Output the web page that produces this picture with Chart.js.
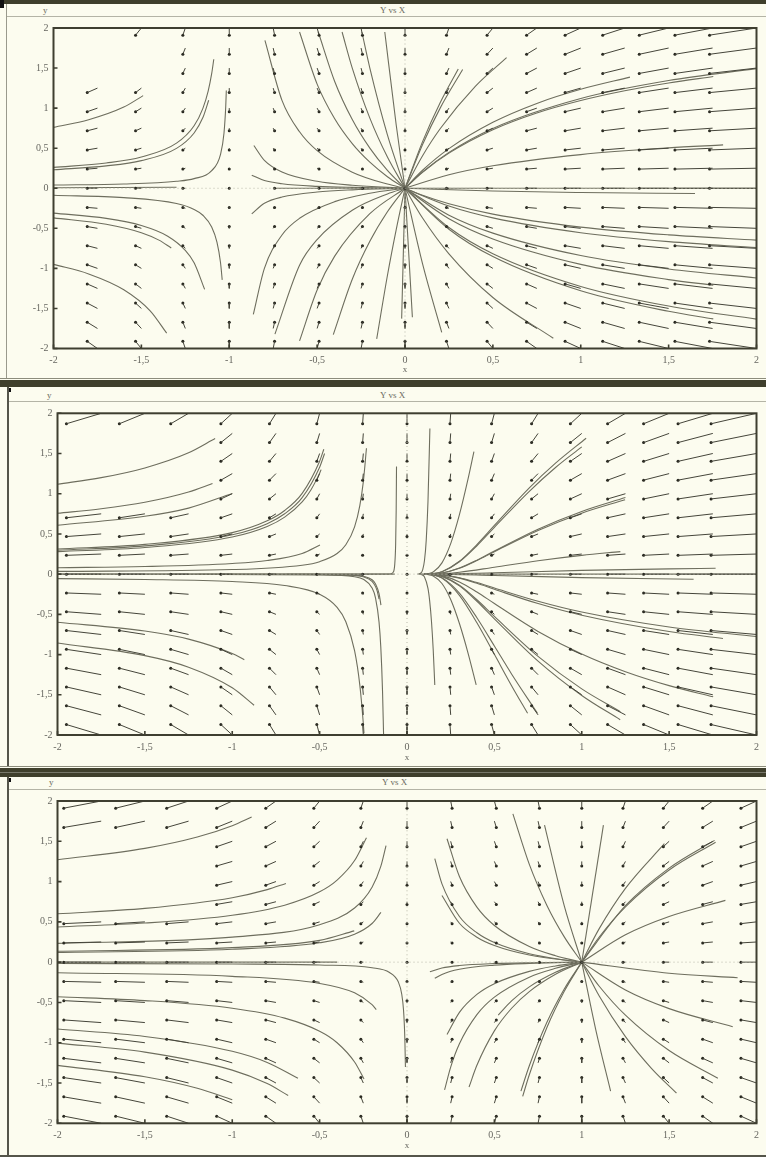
<!DOCTYPE html>
<html><head><meta charset="utf-8">
<script src="https://cdn.jsdelivr.net/npm/chart.js@4.4.1/dist/chart.umd.min.js"></script>
<style>
html,body{margin:0;padding:0;background:#fcfcef;}
body{width:766px;height:1157px;position:relative;overflow:hidden;font-family:"Liberation Serif","DejaVu Serif",serif;}
.abs{position:absolute;}
.band{position:absolute;left:0;width:766px;background:#3f3f2c;}
.hline{position:absolute;left:0;width:766px;height:1px;background:#b4b4a6;}
.vline{position:absolute;}
.lab{position:absolute;font-size:9px;color:#6a6a60;line-height:10px;white-space:nowrap;}
canvas{position:absolute;left:0;}
</style></head>
<body>
<!-- panel 1 chrome -->
<div class="band" style="top:0;height:4px"></div>
<div class="abs" style="left:0;top:0;width:4px;height:8px;background:#111"></div>
<div class="vline" style="left:6px;top:4px;width:1px;height:374px;background:#9a9a8c"></div>
<div class="hline" style="top:16px;left:7px;width:759px"></div>
<div class="lab" style="left:43px;top:5px">y</div>
<div class="lab" style="left:380px;top:5px">Y vs X</div>
<div class="hline" style="top:378px;background:#8c8c7c"></div>
<!-- panel 2 chrome -->
<div class="band" style="top:380px;height:7px"></div>
<div class="abs" style="left:8px;top:388px;width:3px;height:4px;background:#111"></div>
<div class="vline" style="left:7px;top:387px;width:2px;height:380px;background:#55554a"></div>
<div class="hline" style="top:401px;left:9px;width:757px"></div>
<div class="lab" style="left:47px;top:390px">y</div>
<div class="lab" style="left:380px;top:390px">Y vs X</div>
<div class="hline" style="top:766px;background:#8c8c7c"></div>
<!-- panel 3 chrome -->
<div class="band" style="top:768px;height:9px"></div>
<div class="abs" style="left:0;top:772px;width:766px;height:1px;background:#77776a"></div>
<div class="abs" style="left:8px;top:778px;width:3px;height:4px;background:#111"></div>
<div class="vline" style="left:7px;top:777px;width:2px;height:380px;background:#55554a"></div>
<div class="hline" style="top:789px;left:9px;width:757px"></div>
<div class="lab" style="left:49px;top:777px">y</div>
<div class="lab" style="left:382px;top:777px">Y vs X</div>
<div class="hline" style="top:1155px;background:#55554a;height:2px"></div>

<canvas id="c1" width="766" height="362" style="top:17px"></canvas>
<canvas id="c2" width="766" height="364" style="top:402px"></canvas>
<canvas id="c3" width="757" height="365" style="top:790px;left:9px"></canvas>

<script>
// ---------- data ----------
const tickValues = [-2,-1.5,-1,-0.5,0,0.5,1,1.5,2];
const gridX = [-2,-1.75,-1.5,-1.25,-1,-0.75,-0.5,-0.25,0,0.25,0.5,0.75,1,1.25,1.5,1.75,2];
const gridY = [-2,-1.75,-1.5,-1.25,-1,-0.75,-0.5,-0.25,0,0.25,0.5,0.75,1,1.25,1.5,1.75,2];

// arrow components (data units) per column / per row
const arrowDX1 = [0.089,0.058,0.033,0.014,0,-0.008,-0.011,-0.008,0,0.014,0.033,0.058,0.089,0.125,0.167,0.214,0.267];
const arrowDX2 = [0.26,0.199,0.146,0.102,0.065,0.037,0.016,0.004,0,0.004,0.016,0.037,0.065,0.102,0.146,0.199,0.26];
const arrowDX3 = [0.267,0.214,0.167,0.125,0.089,0.058,0.033,0.014,0,-0.008,-0.011,-0.008,0,0.014,0.033,0.058,0.089];
const arrowDY13 = [-0.089,-0.078,-0.067,-0.056,-0.0445,-0.033,-0.022,-0.011,0,0.011,0.022,0.033,0.0445,0.056,0.067,0.078,0.089];
const arrowDY2 = [-0.13,-0.114,-0.0975,-0.081,-0.065,-0.049,-0.0325,-0.016,0,0.016,0.0325,0.049,0.065,0.081,0.0975,0.114,0.13];

// grid cells where the arrow was erased in the picture [col,row]
const missing1 = [[1,16],[1,15],[1,14],[2,15],[2,14]];
const missing2 = [[1,15],[2,15],[3,15],[1,14],[2,14],[3,14],[1,13],[2,13],[3,13],[1,12],[2,12],[3,12]];
const missing3 = [[1,14],[2,14],[3,14],[1,13],[2,13],[3,13],[1,12],[2,12],[3,12],[1,11],[2,11],[3,11]];

// trajectories: flat [x0,y0,x1,y1,...]
const traj1 = [
 [-2,0.76,-1.8,0.855,-1.6,1.013,-1.49,1.156],
 [-2,0.26,-1.7,0.316,-1.5,0.39,-1.3,0.563,-1.2,0.78,-1.15,0.997,-1.12,1.213,-1.1,1.43,-1.088,1.61],
 [-2,0.23,-1.7,0.279,-1.5,0.345,-1.3,0.498,-1.2,0.69,-1.15,0.882,-1.117,1.098],
 [-2,0.04,-1.6,0.053,-1.3,0.087,-1.2,0.12,-1.1,0.22,-1.05,0.42,-1.03,0.687,-1.02,1.02,-1.0167,1.22],
 [-2,0.006,-1.3,0.013],
 [-2,-0.088,-1.6,-0.117,-1.3,-0.191,-1.2,-0.264,-1.15,-0.337,-1.1,-0.484,-1.07,-0.673,-1.05,-0.924,-1.04,-1.144],
 [-2,-0.31,-1.7,-0.376,-1.5,-0.465,-1.35,-0.598,-1.25,-0.775,-1.2,-0.93,-1.14,-1.262],
 [-2,-0.37,-1.7,-0.449,-1.5,-0.555,-1.4,-0.6475,-1.33,-0.746],
 [-2,-0.95,-1.8,-1.069,-1.6,-1.267,-1.45,-1.53,-1.356,-1.809],
 [-0.872,0.1635,-0.8,0.096,-0.7,0.056,-0.5,0.024,-0.3,0.0103,0,0],
 [-0.86,0.534,-0.8,0.348,-0.7,0.203,-0.5,0.087,-0.3,0.037,0,0],
 [-0.797,1.845,-0.7,1.097,-0.6,0.705,-0.5,0.47,-0.3,0.201,-0.1,0.052,0,0],
 [-0.6,1.95,-0.5,1.3,-0.4,0.867,-0.3,0.557,-0.2,0.325,-0.1,0.144,0,0],
 [-0.494,1.953,-0.4,1.333,-0.3,0.857,-0.2,0.5,-0.1,0.222,0,0],
 [-0.358,1.95,-0.3,1.5,-0.2,0.875,-0.1,0.389,0,0],
 [-0.245,1.947,-0.2,1.5,-0.1,0.667,0,0],
 [-0.115,1.95,-0.05,0.789,0,0],
 [-0.75,0.0,0,0],
 [-0.872,-0.32,-0.8,-0.188,-0.7,-0.11,-0.5,-0.047,-0.3,-0.02,0,0],
 [-0.863,-1.575,-0.8,-1.0,-0.7,-0.583,-0.6,-0.375,-0.4,-0.167,-0.2,-0.0625,0,0],
 [-0.74,-1.82,-0.6,-0.96,-0.5,-0.64,-0.3,-0.274,-0.1,-0.071,0,0],
 [-0.6,-1.905,-0.5,-1.27,-0.4,-0.847,-0.2,-0.3175,0,0],
 [-0.408,-1.826,-0.3,-1.136,-0.2,-0.6625,-0.1,-0.294,0,0],
 [-0.161,-1.88,-0.1,-1.089,-0.05,-0.516,0,0],
 [-0.019,-1.627,0,0],
 [0,0,0.1,0.582,0.2,1.067,0.303,1.488],
 [0,0,0.1,0.545,0.2,1.0,0.328,1.482],
 [0,0,0.1,0.405,0.2,0.742,0.4,1.271,0.578,1.63],
 [0,0,0.1,0.2245,0.25,0.494,0.5,0.823,0.75,1.059,1,1.235,1.28,1.387],
 [0,0,0.1,0.199,0.25,0.438,0.5,0.73,0.75,0.939,1,1.095,1.25,1.217,1.5,1.314,1.754,1.395],
 [0,0,0.1,0.204,0.25,0.448,0.5,0.747,1,1.12,1.5,1.344,2,1.493],
 [0,0,0.25,0.168,0.5,0.28,1,0.42,1.5,0.504,1.81,0.541],
 [0,0,2,0],
 [0,0,0.5,-0.035,1,-0.053,1.65,-0.066],
 [0,0,0.1,-0.088,0.25,-0.194,0.5,-0.323,1,-0.485,1.5,-0.582,2,-0.647],
 [0,0,0.25,-0.222,0.5,-0.37,1,-0.555,1.5,-0.666,2,-0.74],
 [0,0,0.25,-0.336,0.5,-0.56,1,-0.84,1.5,-1.008,2,-1.12],
 [0,0,0.25,-0.38,0.5,-0.633,1,-0.95,1.5,-1.14,1.754,-1.21],
 [0,0,0.25,-0.49,0.5,-0.817,1,-1.225,1.5,-1.47,2,-1.633],
 [0,0,0.25,-0.512,0.5,-0.853,1,-1.28,1.5,-1.536,1.754,-1.63],
 [0,0,0.1,-0.372,0.25,-0.818,0.5,-1.363,0.844,-1.872],
 [0,0,0.1,-0.945,0.209,-1.798],
 [0,0,0.042,-1.61]
];
const traj2 = [
 [-2,1.118,-1.75,1.2,-1.5,1.321,-1.25,1.509,-1.098,1.686],
 [-2,0.757,-1.75,0.813,-1.5,0.894,-1.25,1.0215,-1.113,1.127],
 [-2,0.608,-1.5,0.719,-1.25,0.821,-1,1.003],
 [-2,0.28,-1.5,0.331,-1,0.462,-0.8,0.593,-0.7,0.709,-0.6,0.899,-0.55,1.047,-0.5,1.256,-0.4914,1.3],
 [-2,0.297,-1.5,0.351,-1,0.489,-0.8,0.628,-0.7,0.751,-0.6,0.952,-0.5,1.33,-0.4717,1.5],
 [-2,0.313,-1.5,0.37,-1,0.516,-0.8,0.663,-0.7,0.792,-0.6,1.005,-0.5,1.404,-0.476,1.553],
 [-2,0.0805,-1.5,0.095,-1,0.133,-0.8,0.17,-0.6,0.258,-0.498,0.363],
 [-2,0.0346,-1,0.057,-0.6,0.111,-0.5,0.155,-0.4,0.256,-0.35,0.365,-0.3,0.588,-0.27,0.853,-0.25,1.147,-0.232,1.565],
 [-2,0,-0.3,0,-0.1,0.002,-0.08,0.021,-0.07,0.125,-0.065,0.37,-0.062,0.78,-0.06,1.34],
 [-2,-0.056,-1.5,-0.066,-1,-0.092,-0.7,-0.142,-0.5,-0.251,-0.4,-0.414,-0.35,-0.592,-0.3,-0.952,-0.27,-1.38,-0.25,-1.856,-0.246,-1.98],
 [-0.69,-0.002,-0.3,-0.0132,-0.25,-0.0257,-0.2,-0.0697,-0.18,-0.1215,-0.16,-0.2435,-0.149,-0.386],
 [-0.5,-0.0044,-0.3,-0.0168,-0.25,-0.0328,-0.2,-0.089,-0.18,-0.155,-0.17,-0.215,-0.16,-0.311],
 [-1.2,-0.0026,-0.5,-0.0085,-0.3,-0.032,-0.25,-0.063,-0.2,-0.171,-0.18,-0.297,-0.16,-0.596,-0.15,-0.904,-0.14,-1.455,-0.134,-2.0],
 [-2,-0.598,-1.5,-0.707,-1.25,-0.808,-1,-0.987,-0.931,-1.063],
 [-2,-0.857,-1.5,-1.013,-1.25,-1.157,-1,-1.413,-0.875,-1.63],
 [-2,0,-0.07,0],
 [0.07,0,2,0],
 [0.06,0,0.08,0.014,0.09,0.056,0.1,0.169,0.11,0.42,0.12,0.9,0.131,1.81],
 [0.1,0,0.12,0.005,0.15,0.026,0.2,0.14,0.25,0.379,0.3,0.739,0.35,1.19,0.383,1.524],
 [0.1,0,0.15,0.0057,0.2,0.03,0.3,0.16,0.4,0.368,0.5,0.606,0.7,1.074,0.85,1.38,1.025,1.69],
 [0.1,0,0.15,0.0055,0.2,0.029,0.3,0.154,0.4,0.353,0.5,0.582,0.7,1.03,0.85,1.326,1.0,1.582],
 [0.1,0,0.15,0.0026,0.2,0.0139,0.3,0.0735,0.4,0.169,0.5,0.279,0.75,0.543,1.0,0.758,1.248,0.925],
 [0.1,0,0.2,0.0143,0.3,0.0757,0.4,0.174,0.5,0.287,0.75,0.559,1,0.78,1.25,0.953],
 [0.1,0,0.2,0.0043,0.3,0.0227,0.5,0.086,0.75,0.167,1,0.234,1.221,0.28],
 [0.1,0,0.15,0.0002,0.5,0.0175,1,0.047,1.5,0.066,1.766,0.073],
 [0.1,0,0.15,0,0.5,-0.016,1,-0.043,1.64,-0.064],
 [0.1,0,0.15,-0.0016,0.2,-0.0086,0.3,-0.0457,0.4,-0.105,0.5,-0.173,0.75,-0.337,1,-0.471,1.5,-0.657,2,-0.776],
 [0.1,0,0.2,-0.0094,0.3,-0.0496,0.4,-0.114,0.5,-0.188,0.75,-0.366,1,-0.511,1.5,-0.714,1.808,-0.8],
 [0.1,0,0.15,-0.0034,0.2,-0.0182,0.3,-0.0964,0.4,-0.222,0.5,-0.365,0.75,-0.712,1,-0.993,1.25,-1.213,1.5,-1.386,1.752,-1.525],
 [0.1,0,0.15,-0.0052,0.2,-0.0276,0.3,-0.146,0.4,-0.337,0.5,-0.555,0.75,-1.081,1,-1.508,1.22,-1.81],
 [0.1,0,0.2,-0.026,0.3,-0.1385,0.4,-0.3185,0.5,-0.525,0.75,-1.023,1,-1.427,1.221,-1.71],
 [0.1,0,0.15,-0.0084,0.2,-0.0445,0.3,-0.236,0.4,-0.542,0.5,-0.893,0.6,-1.247,0.746,-1.728],
 [0.1,0,0.15,-0.0094,0.2,-0.0497,0.3,-0.263,0.4,-0.605,0.5,-0.997,0.6,-1.393,0.69,-1.73],
 [0.1,0,0.12,-0.004,0.15,-0.0218,0.2,-0.116,0.25,-0.315,0.3,-0.614,0.35,-0.987,0.396,-1.378],
 [0.08,-0.003,0.1,-0.034,0.12,-0.178,0.13,-0.339,0.14,-0.585,0.15,-0.941,0.159,-1.378]
];
const traj3 = [
 [-2,1.27,-1.5,1.412,-1.2,1.553,-1,1.694,-0.889,1.8],
 [-2,0.6,-1.5,0.667,-1,0.8,-0.8,0.9,-0.693,0.977],
 [-2,0.4365,-1.5,0.485,-1,0.582,-0.7,0.707,-0.5,0.873,-0.4,1.0185,-0.3,1.261,-0.232,1.545],
 [-2,0.2325,-1,0.31,-0.5,0.465,-0.3,0.672,-0.2,0.93,-0.15,1.188,-0.12,1.447],
 [-2,0.12,-1,0.16,-0.5,0.24,-0.3,0.347,-0.2,0.48,-0.149,0.617],
 [-2,0.135,-1,0.18,-0.5,0.27,-0.302,0.388],
 [-2,0,-0.4,0],
 [-2,-0.132,-1,-0.176,-0.5,-0.264,-0.3,-0.381,-0.2,-0.528,-0.176,-0.588],
 [-2,-0.017,-1,-0.023,-0.5,-0.035,-0.2,-0.07,-0.1,-0.128,-0.05,-0.244,-0.03,-0.398,-0.02,-0.59,-0.015,-0.785,-0.012,-0.98,-0.009,-1.3],
 [-2,-0.429,-1.5,-0.477,-1,-0.572,-0.7,-0.695,-0.5,-0.858,-0.4,-1.0,-0.3,-1.239,-0.246,-1.449],
 [-2,-0.83,-1.5,-0.922,-1,-1.106,-0.8,-1.244,-0.624,-1.44],
 [-2,-1.005,-1.5,-1.117,-1,-1.34,-0.8,-1.5075,-0.68,-1.655],
 [-2,-1.281,-1.5,-1.423,-1.2,-1.566,-1,-1.708],
 [0.159,1.286,0.2,0.972,0.3,0.567,0.4,0.3645,0.5,0.243,0.7,0.104,0.9,0.027,1,0],
 [0.2,0.828,0.3,0.483,0.4,0.31,0.5,0.207,0.7,0.0887,1,0],
 [0.229,1.532,0.3,1.062,0.4,0.6825,0.5,0.455,0.7,0.195,0.85,0.08,1,0],
 [0.606,1.84,0.7,1.213,0.8,0.7075,0.9,0.314,1,0],
 [0.787,1.7,0.9,0.698,1,0],
 [1,0,1.124,1.7],
 [1,0,1.1,0.416,1.25,0.916,1.473,1.47],
 [1,0,1.1,0.312,1.25,0.686,1.5,1.143,1.766,1.488],
 [1,0,1.25,0.7,1.5,1.167,1.76,1.511],
 [1,0,1.25,0.34,1.5,0.567,1.822,0.767],
 [1,0,1.5,-0.137,1.892,-0.193],
 [1,0,1.25,-0.346,1.5,-0.577,1.864,-0.802],
 [1,0,1.1,-0.299,1.25,-0.658,1.5,-1.097,1.779,-1.441],
 [1,0,1.1,-0.42,1.25,-0.924,1.4,-1.32,1.542,-1.624],
 [1,0,1.08,-0.837,1.165,-1.6],
 [0.131,-0.119,0.2,-0.072,0.3,-0.042,0.5,-0.018,0.7,-0.0077,1,0],
 [0.159,-0.201,0.2,-0.152,0.3,-0.0887,0.5,-0.038,0.7,-0.0163,1,0],
 [0.229,-0.899,0.3,-0.623,0.4,-0.4,0.5,-0.267,0.7,-0.1144,0.85,-0.047,1,0],
 [0.215,-1.585,0.25,-1.302,0.3,-1.013,0.4,-0.651,0.5,-0.434,0.7,-0.186,0.85,-0.0766,1,0],
 [0.355,-1.55,0.4,-1.28,0.5,-0.853,0.6,-0.569,0.7,-0.3656,0.85,-0.1506,1,0],
 [0.522,-0.656,0.6,-0.477,0.7,-0.307,0.85,-0.126,1,0],
 [0.662,-1.665,0.7,-1.397,0.8,-0.815,0.9,-0.362,1,0],
 [0.652,-1.6,0.7,-1.286,0.8,-0.75,0.9,-0.333,1,0]
];

// ---------- drawing ----------
const TEXT = '#666660', FRAME = '#3e3e30';
function fmt(v){ return String(v).replace('.', ','); }

function arrowData(dx, dy, missing){
  const skip = new Set(missing.map(m => m[0] + ':' + m[1]));
  const seg = [], dots = [];
  gridX.forEach((gx, i) => gridY.forEach((gy, j) => {
    if (skip.has(i + ':' + j)) return;
    const x0 = gx - dx[i], y0 = gy - dy[j];
    seg.push({x:x0, y:y0}, {x:gx, y:gy}, {x:gx, y:null});
    dots.push({x:x0, y:y0});
  }));
  return {seg, dots};
}
function toPts(flat){ const p=[]; for(let k=0;k<flat.length;k+=2) p.push({x:flat[k], y:flat[k+1]}); return p; }

const framePlugin = {
  id:'frame',
  afterDraw(chart){
    const {ctx, chartArea:a, scales:{x, y}} = chart;
    ctx.save();
    ctx.strokeStyle = FRAME; ctx.lineWidth = 1.6;
    ctx.beginPath();
    tickValues.forEach(v => {
      const px = x.getPixelForValue(v); ctx.moveTo(px, a.bottom); ctx.lineTo(px, a.bottom - 4);
      const py = y.getPixelForValue(v); ctx.moveTo(a.left, py); ctx.lineTo(a.left + 4, py);
    });
    ctx.stroke();
    ctx.lineWidth = 2;
    ctx.strokeRect(a.left, a.top, a.right - a.left, a.bottom - a.top);
    ctx.restore();
  }
};

function makeChart(id, cfg){
  const {dx, dy, missing, traj, padTop, padBottom, padLeft, yWidth, titlePad} = cfg;
  const ar = arrowData(dx, dy, missing);
  const datasets = [
    {data:[{x:-2,y:0},{x:2,y:0}], borderColor:'#b9b9aa', borderWidth:1, borderDash:[1,3], pointRadius:0},
    {data:[{x:0,y:-2},{x:0,y:2}], borderColor:'#b9b9aa', borderWidth:1, borderDash:[1,3], pointRadius:0},
    {data:ar.seg, borderColor:'#45453a', borderWidth:1, pointRadius:0, spanGaps:false},
    {data:ar.dots, showLine:false, pointRadius:1.5, pointBackgroundColor:'#26261e', pointBorderWidth:0}
  ];
  traj.forEach(t => datasets.push({data:toPts(t), borderColor:'#6e6e5e', borderWidth:1.1, pointRadius:0, cubicInterpolationMode:'monotone'}));
  return new Chart(document.getElementById(id), {
    type:'line',
    data:{datasets},
    plugins:[framePlugin],
    options:{
      responsive:false, animation:false, devicePixelRatio:1, events:[],
      layout:{padding:{left:padLeft, right:9.5, top:padTop, bottom:padBottom}},
      plugins:{legend:{display:false}, tooltip:{enabled:false}},
      scales:{
        x:{type:'linear', min:-2, max:2,
           afterBuildTicks: s => { s.ticks = tickValues.map(v => ({value:v})); },
           afterFit: s => { s.height = 28; },
           grid:{display:false, drawTicks:false}, border:{display:false},
           ticks:{padding:6, color:TEXT, font:{family:'Liberation Serif', size:10}, callback:v => fmt(v), autoSkip:false, maxRotation:0},
           title:{display:true, text:'x', color:TEXT, font:{family:'Liberation Serif', size:9}, padding:{top:0, bottom:titlePad}}},
        y:{type:'linear', min:-2, max:2,
           afterBuildTicks: s => { s.ticks = tickValues.map(v => ({value:v})); },
           afterFit: s => { s.width = yWidth; },
           grid:{display:false, drawTicks:false}, border:{display:false},
           ticks:{padding:5, color:TEXT, font:{family:'Liberation Serif', size:10}, callback:v => fmt(v), autoSkip:false}}
      }
    }
  });
}

makeChart('c1', {dx:arrowDX1, dy:arrowDY13, missing:missing1, traj:traj1, padTop:10.5, padBottom:2.5, padLeft:5.5, yWidth:48, titlePad:1});
makeChart('c2', {dx:arrowDX2, dy:arrowDY2, missing:missing2, traj:traj2, padTop:11.3, padBottom:3, padLeft:5.5, yWidth:52, titlePad:0});
makeChart('c3', {dx:arrowDX3, dy:arrowDY13, missing:missing3, traj:traj3, padTop:10, padBottom:3.7, padLeft:-3.5, yWidth:52, titlePad:0});
</script>
</body></html>
